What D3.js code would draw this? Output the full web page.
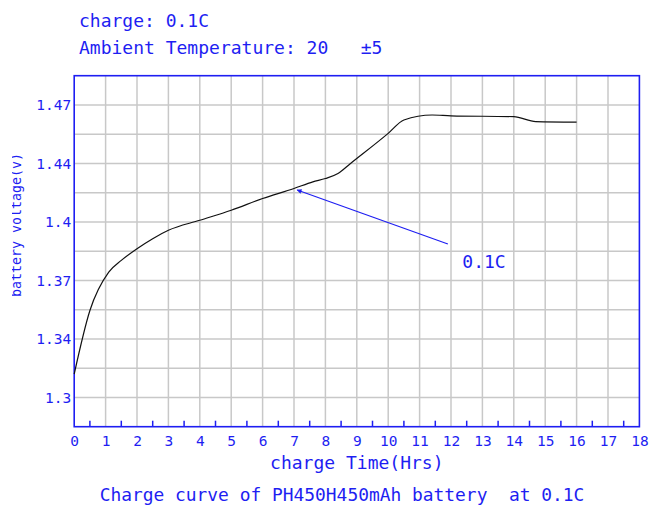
<!DOCTYPE html>
<html>
<head>
<meta charset="utf-8">
<script src="https://cdn.jsdelivr.net/npm/d3@7"></script>
<style>
  body { margin: 0; background: white; }
  text { font-family: "DejaVu Sans Mono", monospace; }
</style>
</head>
<body>
<div id="chart"></div>
<script>
// charge curve
var hours = [0, 0.5, 1.1, 1.5, 2, 2.5, 3, 4, 5, 6, 7, 7.6, 8, 8.4, 8.8, 10, 10.5, 11.4, 12, 14, 14.7, 16];
var volts = [1.314, 1.352, 1.375, 1.382, 1.389, 1.395, 1.400, 1.406, 1.412, 1.419, 1.425, 1.429, 1.431, 1.434, 1.440, 1.458, 1.466, 1.469, 1.4685, 1.468, 1.465, 1.4647];

var xTicks = [0, 1, 2, 3, 4, 5, 6, 7, 8, 9, 10, 11, 12, 13, 14, 15, 16, 17, 18];
var yTicks = [1.30, 1.335, 1.37, 1.405, 1.44, 1.475];
var yTickLabels = ["1.3", "1.34", "1.37", "1.4", "1.44", "1.47"];

var w = 653,
    h = 508;
var blue = "#1e1ef2";

var svg = d3.select("#chart")
  .append("svg")
  .attr("width", w)
  .attr("height", h);

var x = d3.scaleLinear().domain([0, 18]).range([74.2, 639.4]);
var y = d3.scaleLinear().domain([1.2825, 1.4925]).range([426.7, 75.7]);

// grid
var gx = d3.range(1, 18);
var gy = d3.range(1, 12).map(function(i) { return 1.2825 + i * 0.0175; });

svg.append("g").selectAll("line")
  .data(gx)
  .enter()
  .append("line")
  .attr("x1", function(d) { return x(d); })
  .attr("x2", function(d) { return x(d); })
  .attr("y1", y.range()[1])
  .attr("y2", y.range()[0])
  .attr("stroke", "#c8c8c8")
  .attr("stroke-width", 1.5);

svg.append("g").selectAll("line")
  .data(gy)
  .enter()
  .append("line")
  .attr("x1", x.range()[0])
  .attr("x2", x.range()[1])
  .attr("y1", function(d) { return y(d); })
  .attr("y2", function(d) { return y(d); })
  .attr("stroke", "#c8c8c8")
  .attr("stroke-width", 1.5);

// half hour ticks on the bottom
svg.append("g").selectAll("line")
  .data(d3.range(0, 18).map(function(i) { return i + 0.5; }))
  .enter()
  .append("line")
  .attr("x1", function(d) { return x(d); })
  .attr("x2", function(d) { return x(d); })
  .attr("y1", y.range()[0])
  .attr("y2", y.range()[0] - 6)
  .attr("stroke", blue)
  .attr("stroke-width", 1.5);

// frame
svg.append("rect")
  .attr("x", x.range()[0])
  .attr("y", y.range()[1])
  .attr("width", x.range()[1] - x.range()[0])
  .attr("height", y.range()[0] - y.range()[1])
  .attr("fill", "none")
  .attr("stroke", blue)
  .attr("stroke-width", 1.6);

// axes
var xAxis = svg.append("g")
  .attr("transform", "translate(0," + y.range()[0] + ")")
  .call(d3.axisBottom(x).tickValues(xTicks).tickSize(0).tickPadding(9).tickFormat(d3.format("d")));
xAxis.select(".domain").remove();
xAxis.selectAll("text")
  .attr("fill", blue)
  .style("font-size", "14.5px")
  .style("font-family", "'DejaVu Sans Mono', monospace");

var yAxis = svg.append("g")
  .attr("transform", "translate(" + x.range()[0] + ",0)")
  .call(d3.axisLeft(y).tickValues(yTicks).tickSize(0).tickPadding(3)
    .tickFormat(function(d, i) { return yTickLabels[i]; }));
yAxis.select(".domain").remove();
yAxis.selectAll("text")
  .attr("fill", blue)
  .style("font-size", "14.5px")
  .style("font-family", "'DejaVu Sans Mono', monospace");

// the curve
var line = d3.line()
  .x(function(d, i) { return x(hours[i]); })
  .y(function(d) { return y(d); })
  .curve(d3.curveMonotoneX);

svg.append("path")
  .datum(volts)
  .attr("d", line)
  .attr("fill", "none")
  .attr("stroke", "#111")
  .attr("stroke-width", 1.2);

// arrow annotation
svg.append("defs")
  .append("marker")
  .attr("id", "head")
  .attr("viewBox", "0 0 10 10")
  .attr("refX", 9)
  .attr("refY", 5)
  .attr("markerWidth", 6)
  .attr("markerHeight", 4)
  .attr("orient", "auto")
  .append("path")
  .attr("d", "M0,0L10,5L0,10z")
  .attr("fill", blue);

svg.append("line")
  .attr("x1", x(11.9))
  .attr("y1", y(1.3918))
  .attr("x2", x(7.1))
  .attr("y2", y(1.4241))
  .attr("stroke", blue)
  .attr("stroke-width", 1.2)
  .attr("marker-end", "url(#head)");

svg.append("text")
  .attr("x", x(12.36))
  .attr("y", y(1.3774))
  .attr("fill", blue)
  .style("font-size", "18px")
  .text("0.1C");

// texts
svg.append("text")
  .attr("x", 79)
  .attr("y", 27)
  .attr("fill", blue)
  .style("font-size", "18px")
  .style("white-space", "pre")
  .text("charge: 0.1C");

svg.append("text")
  .attr("x", 79)
  .attr("y", 54)
  .attr("fill", blue)
  .style("font-size", "18px")
  .style("white-space", "pre")
  .text("Ambient Temperature: 20   \u00b15");

svg.append("text")
  .attr("x", (x.range()[0] + x.range()[1]) / 2)
  .attr("y", 469)
  .attr("text-anchor", "middle")
  .attr("fill", blue)
  .style("font-size", "18px")
  .text("charge Time(Hrs)");

svg.append("text")
  .attr("x", 342)
  .attr("y", 501)
  .attr("text-anchor", "middle")
  .attr("fill", blue)
  .style("font-size", "17.9px")
  .style("white-space", "pre")
  .text("Charge curve of PH450H450mAh battery  at 0.1C");

// y title, partly cut at the left like the original
svg.select("defs")
  .append("clipPath")
  .attr("id", "cut")
  .append("rect")
  .attr("x", 12)
  .attr("y", 0)
  .attr("width", 30)
  .attr("height", h);

svg.append("g")
  .attr("clip-path", "url(#cut)")
  .append("text")
  .attr("transform", "translate(21,225) rotate(-90)")
  .attr("text-anchor", "middle")
  .attr("fill", blue)
  .style("font-size", "13.3px")
  .text("battery voltage(v)");
</script>
</body>
</html>
